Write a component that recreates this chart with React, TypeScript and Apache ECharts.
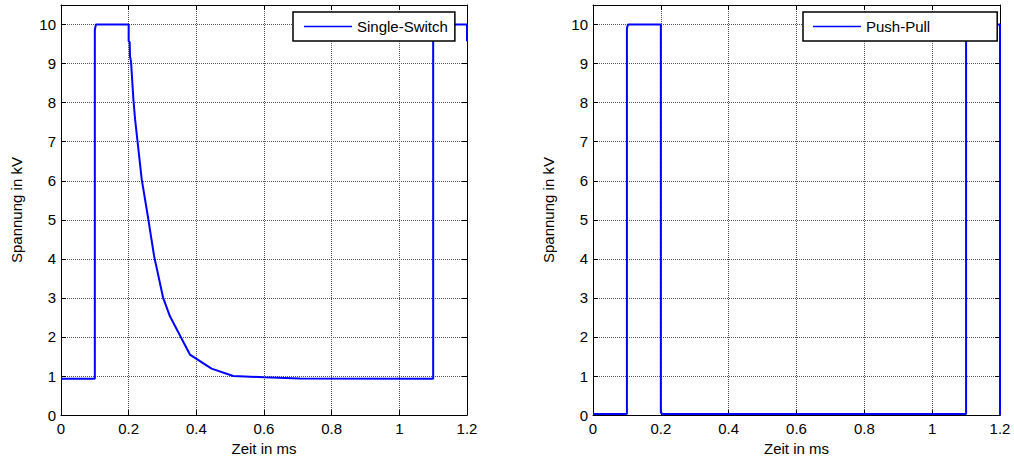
import React, { useEffect, useRef } from "react";
import * as echarts from "echarts";

// Single-Switch waveform (time in ms, voltage in kV)
const singleTime = [0, 0.1, 0.1, 0.103, 0.2, 0.2, 0.203, 0.204, 0.207, 0.214, 0.219, 0.2385, 0.258, 0.275, 0.302, 0.322, 0.381, 0.445, 0.509, 0.598, 0.706, 1.1, 1.1, 1.103, 1.2, 1.2];
const singleVolt = [0.93, 0.93, 9.86, 10, 10, 9.57, 9.55, 9.18, 9.05, 8.08, 7.57, 6.04, 5.02, 4.08, 3.0, 2.53, 1.55, 1.19, 1.0, 0.97, 0.94, 0.93, 9.86, 10, 10, 9.57];

// Push-Pull waveform
const pushTime = [0, 0.1, 0.1, 0.103, 0.2, 0.2, 0.205, 1.1, 1.1, 1.103, 1.2, 1.2];
const pushVolt = [0.03, 0.03, 9.9, 10, 10, 0.06, 0.03, 0.03, 9.9, 10, 10, 0];

const seriesNames = ["Single-Switch", "Push-Pull"];
const xName = "Zeit in ms";
const yName = "Spannung in kV";

const FONT = "Liberation Sans, Arial, sans-serif";
const FS = 15;

function pairs(t: number[], v: number[]) {
  return t.map((x, i) => [x, v[i]]);
}

export default function App() {
  const ref = useRef<HTMLDivElement>(null);
  useEffect(() => {
    if (!ref.current) return;
    const chart = echarts.init(ref.current, null, { renderer: "svg" });
    const grids = [
      { left: 61, right: 547, top: 5, bottom: 44 },
      { left: 593, right: 14, top: 5, bottom: 44 },
    ];
    const xAxes: any[] = [];
    const yAxes: any[] = [];
    grids.forEach((_, gi) => {
      xAxes.push({
        type: "value",
        gridIndex: gi,
        min: 0,
        max: 1.2,
        interval: 0.2,
        position: "bottom",
        name: xName,
        nameLocation: "middle",
        nameGap: 25,
        nameTextStyle: { fontFamily: FONT, fontSize: FS, color: "#000" },
        axisLine: { show: true, lineStyle: { color: "#000", width: 1 } },
        axisTick: { show: true, inside: true, length: 5, lineStyle: { color: "#000" } },
        axisLabel: { fontFamily: FONT, fontSize: FS, color: "#000", margin: 6 },
        splitLine: { show: true, lineStyle: { color: "#555", type: "dotted", width: 1 } },
      });
      xAxes.push({
        type: "value",
        gridIndex: gi,
        min: 0,
        max: 1.2,
        interval: 0.2,
        position: "top",
        axisLine: { show: true, onZero: false, lineStyle: { color: "#000", width: 1 } },
        axisTick: { show: true, inside: true, length: 5, lineStyle: { color: "#000" } },
        axisLabel: { show: false },
        splitLine: { show: false },
      });
      yAxes.push({
        type: "value",
        gridIndex: gi,
        min: 0,
        max: 10.5,
        interval: 1,
        position: "left",
        name: yName,
        nameLocation: "middle",
        nameGap: 37,
        nameTextStyle: { fontFamily: FONT, fontSize: FS, color: "#000" },
        axisLine: { show: true, lineStyle: { color: "#000", width: 1 } },
        axisTick: { show: true, inside: true, length: 5, lineStyle: { color: "#000" } },
        axisLabel: { fontFamily: FONT, fontSize: FS, color: "#000", margin: 5, showMaxLabel: false },
        splitLine: { show: true, lineStyle: { color: "#555", type: "dotted", width: 1 } },
      });
      yAxes.push({
        type: "value",
        gridIndex: gi,
        min: 0,
        max: 10.5,
        interval: 1,
        position: "right",
        axisLine: { show: true, onZero: false, lineStyle: { color: "#000", width: 1 } },
        axisTick: { show: true, inside: true, length: 5, lineStyle: { color: "#000" } },
        axisLabel: { show: false },
        splitLine: { show: false },
      });
    });
    const legendBase = {
      orient: "horizontal",
      top: 12,
      icon: "rect",
      itemWidth: 48,
      itemHeight: 1.5,
      itemGap: 5,
      backgroundColor: "#fff",
      borderColor: "#000",
      borderWidth: 1.5,
      borderRadius: 0,
      textStyle: { fontFamily: FONT, fontSize: FS, color: "#000" },
    };
    chart.setOption({
      animation: false,
      backgroundColor: "#fff",
      grid: grids,
      xAxis: xAxes,
      yAxis: yAxes,
      legend: [
        { ...legendBase, data: [seriesNames[0]], left: 293, padding: [7, 7, 7, 11] },
        { ...legendBase, data: [seriesNames[1]], left: 803, padding: [7, 67, 7, 10] },
      ],
      series: [
        {
          name: seriesNames[0],
          type: "line",
          xAxisIndex: 0,
          yAxisIndex: 0,
          symbol: "none",
          data: pairs(singleTime, singleVolt),
          lineStyle: { color: "#0000ff", width: 2 },
          itemStyle: { color: "#0000ff" },
          z: 1,
        },
        {
          name: seriesNames[1],
          type: "line",
          xAxisIndex: 2,
          yAxisIndex: 2,
          symbol: "none",
          data: pairs(pushTime, pushVolt),
          lineStyle: { color: "#0000ff", width: 2 },
          itemStyle: { color: "#0000ff" },
          z: 1,
        },
      ],
    });
    return () => chart.dispose();
  }, []);
  return (
    <div
      ref={ref}
      style={{ position: "absolute", left: 0, top: 0, width: 1014, height: 461 }}
    />
  );
}
